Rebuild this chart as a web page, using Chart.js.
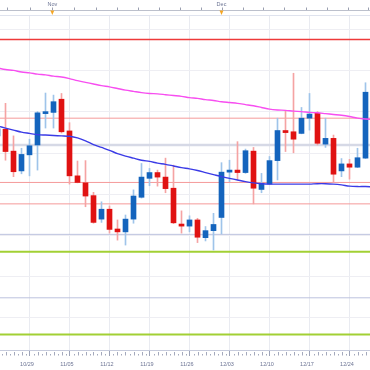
<!DOCTYPE html>
<html>
<head>
<meta charset="utf-8">
<script src="https://cdn.jsdelivr.net/npm/chart.js@4.4.0/dist/chart.umd.min.js"></script>
<style>
  html, body { margin: 0; padding: 0; background: #fff; }
  #chart { display: block; }
</style>
</head>
<body>
<canvas id="chart" width="370" height="370"></canvas>
<script>
// daily candles, index 0 = 10/29 (first week line), four days before it
const firstIndex = -4;
const dates = [
  '10/23', '10/24', '10/25', '10/26',
  '10/29', '10/30', '10/31', '11/01', '11/02',
  '11/05', '11/06', '11/07', '11/08', '11/09',
  '11/12', '11/13', '11/14', '11/15', '11/16',
  '11/19', '11/20', '11/21', '11/22', '11/23',
  '11/26', '11/27', '11/28', '11/29', '11/30',
  '12/03', '12/04', '12/05', '12/06', '12/07',
  '12/10', '12/11', '12/12', '12/13', '12/14',
  '12/17', '12/18', '12/19', '12/20', '12/21',
  '12/24', '12/25', '12/26'
];
const openP = [
  144.2, 145.8, 140.5, 135.7,
  139.6, 142.0, 149.6, 149.9, 153.1,
  145.4, 134.5, 132.8, 129.7, 124.0,
  126.4, 121.6, 120.9, 124.0, 129.3,
  133.9, 135.3, 134.2, 131.5, 122.8,
  122.3, 123.8, 119.5, 121.2, 124.4,
  135.4, 135.9, 135.3, 140.5, 131.2,
  132.5, 138.2, 145.5, 145.2, 144.8,
  148.5, 149.7, 142.2, 143.6, 135.7,
  137.4, 136.6, 138.8
];
const highP = [
  146.8, 152.1, 144.2, 141.2,
  143.4, 150.1, 154.6, 154.1, 154.5,
  147.4, 138.1, 138.2, 130.5, 128.2,
  127.2, 123.8, 125.0, 131.1, 137.5,
  136.3, 135.9, 138.8, 137.1, 126.0,
  124.8, 124.2, 122.2, 125.4, 137.7,
  138.3, 142.8, 141.0, 141.4, 135.1,
  139.2, 148.5, 150.3, 159.4, 151.1,
  154.5, 150.1, 148.5, 144.4, 138.7,
  138.5, 141.2, 157.1
];
const lowP = [
  143.7, 138.3, 134.3, 135.0,
  134.5, 135.9, 146.1, 146.1, 144.9,
  132.5, 132.8, 127.0, 123.0, 123.2,
  120.6, 118.9, 117.7, 123.0, 129.1,
  132.1, 132.0, 130.4, 122.9, 120.6,
  120.9, 118.3, 118.7, 116.5, 120.4,
  133.1, 133.5, 135.1, 127.7, 130.4,
  132.4, 133.5, 140.4, 140.1, 144.7,
  145.6, 142.0, 141.4, 133.0, 134.3,
  133.7, 136.5, 138.7
];
const closeP = [
  145.9, 140.4, 135.5, 139.7,
  141.8, 149.8, 149.9, 152.5, 145.2,
  134.5, 132.9, 129.6, 123.2, 126.4,
  121.5, 120.9, 124.0, 129.6, 134.2,
  135.3, 134.2, 131.4, 123.1, 122.3,
  123.8, 119.6, 121.2, 122.7, 135.4,
  135.9, 135.3, 140.6, 131.5, 132.7,
  138.2, 145.5, 145.0, 143.4, 148.5,
  149.5, 142.4, 143.6, 134.9, 137.4,
  136.6, 138.9, 154.8
];
// moving averages (one extra point runs past the last candle to the edge)
const maSlow = [
  160.7, 160.3, 160.1, 159.7,
  159.5, 159.2, 159.0, 158.7, 158.5,
  158.1, 157.6, 157.2, 156.8, 156.4,
  156.1, 155.7, 155.3, 155.0, 154.7,
  154.5, 154.4, 154.2, 154.0, 153.8,
  153.5, 153.3, 153.0, 152.8, 152.5,
  152.3, 152.1, 151.8, 151.5, 151.1,
  150.7, 150.5, 150.4, 150.2, 150.1,
  149.9, 149.8, 149.6, 149.4, 149.2,
  148.9, 148.5, 148.3, 148.2
];
const maFast = [
  146.6, 146.1, 145.6, 145.1,
  144.8, 144.5, 144.4, 144.3, 144.2,
  144.1, 143.7, 143.0, 142.1, 141.4,
  140.7, 139.9, 139.3, 138.8, 138.3,
  138.0, 137.6, 137.3, 136.9, 136.5,
  136.2, 135.8, 135.3, 134.8, 134.3,
  133.9, 133.5, 133.1, 132.8, 132.6,
  132.5, 132.5, 132.5, 132.5, 132.5,
  132.5, 132.6, 132.6, 132.5, 132.3,
  132.0, 131.9, 131.9, 131.8
];

// horizontal levels
const resistance = [167.6];
const pivotLines = [148.5, 132.9, 127.7];
const midLine = [142.0];
const bandLines = [120.3, 104.9];
const supportLines = [116.1, 96.0];

// axes
const weekTicks = [0, 5, 10, 15, 20, 25, 30, 35, 40];
const gridValues = [100, 110, 120, 130, 140, 150, 160, 170];
const topTicks = [-2.78, 0.06, 2.78, 5.56, 8.31, 10.9, 13.6, 16.2, 18.8, 21.4, 24.0, 26.65, 29.2, 31.85, 34.56, 37.15, 39.8, 42.35];
const months = [['Nov', 2.85], ['Dec', 24.0]];

const xMin = -3.6875, xMax = 42.5625;
const yMin = 92.23, yMax = 173.3;

const idx = dates.map((d, k) => k + firstIndex);
const rising = closeP.map((c, k) => c >= openP[k]);

function level(v, color, width) {
  return {
    type: 'line',
    data: [{x: xMin, y: v}, {x: xMax, y: v}],
    borderColor: color,
    borderWidth: width,
    pointRadius: 0,
    order: 5
  };
}

function maLine(values, color) {
  return {
    type: 'line',
    data: values.map((v, k) => ({x: k + firstIndex, y: v})),
    borderColor: color,
    borderWidth: 1.4,
    pointRadius: 0,
    tension: 0.3,
    order: 1
  };
}

const axisDecor = {
  id: 'axisDecor',
  afterDraw(chart) {
    const ctx = chart.ctx;
    const sx = chart.scales.x;
    const area = chart.chartArea;
    ctx.save();
    ctx.lineWidth = 1;

    // top time strip
    ctx.strokeStyle = '#bcc0cc';
    ctx.beginPath(); ctx.moveTo(area.left, 10.5); ctx.lineTo(area.right, 10.5); ctx.stroke();
    ctx.strokeStyle = '#dfe3ee';
    ctx.beginPath(); ctx.moveTo(area.left, area.top - 0.5); ctx.lineTo(area.right, area.top - 0.5); ctx.stroke();
    ctx.strokeStyle = '#9a9fb0';
    topTicks.forEach(t => {
      const px = Math.round(sx.getPixelForValue(t)) + 0.5;
      ctx.beginPath(); ctx.moveTo(px, 7.5); ctx.lineTo(px, 10); ctx.stroke();
    });
    ctx.font = '5.5px "Liberation Sans"';
    ctx.textAlign = 'center';
    ctx.textBaseline = 'middle';
    months.forEach(([name, t]) => {
      const px = sx.getPixelForValue(t);
      ctx.fillStyle = '#6c7494';
      ctx.fillText(name, px, 4.7);
      ctx.fillStyle = '#f5a623';
      ctx.beginPath();
      ctx.moveTo(px - 2, 10.5); ctx.lineTo(px + 2, 10.5); ctx.lineTo(px, 15);
      ctx.closePath(); ctx.fill();
    });

    // small day ticks on the bottom axis
    ctx.strokeStyle = '#a4a9bc';
    for (let t = Math.ceil(xMin * 2) / 2; t <= xMax; t += 0.5) {
      if (t % 5 === 0) continue;
      const px = Math.round(sx.getPixelForValue(t)) + 0.5;
      const y0 = Number.isInteger(t) ? area.bottom + 2 : area.bottom + 4;
      ctx.beginPath(); ctx.moveTo(px, y0); ctx.lineTo(px, area.bottom + 5.5); ctx.stroke();
    }
    ctx.restore();
  }
};

new Chart(document.getElementById('chart'), {
  type: 'bar',
  data: {
    datasets: [
      {
        label: 'wick',
        data: idx.map((x, k) => ({x: x, y: [lowP[k], highP[k]]})),
        backgroundColor: rising.map(r => r ? '#9fc4ea' : '#f5a3a3'),
        barThickness: 1,
        grouped: false,
        order: 3
      },
      {
        label: 'body',
        data: idx.map((x, k) => ({x: x, y: [openP[k], closeP[k]]})),
        backgroundColor: rising.map(r => r ? '#1464bd' : '#e01212'),
        barThickness: 5,
        minBarLength: 2,
        grouped: false,
        order: 2
      },
      maLine(maSlow, '#f74ef0'),
      maLine(maFast, '#3b3be6'),
      ...resistance.map(v => level(v, '#ee3a3a', 1.5)),
      ...pivotLines.map(v => level(v, '#f59a9a', 1)),
      ...midLine.map(v => level(v, '#d6d9e6', 2.5)),
      ...bandLines.map(v => level(v, '#bcc2de', 1)),
      ...supportLines.map(v => level(v, '#a2d034', 2))
    ]
  },
  options: {
    responsive: false,
    animation: false,
    devicePixelRatio: 1,
    layout: { padding: { top: 16, left: 0, right: 0, bottom: 0 } },
    plugins: { legend: { display: false }, tooltip: { enabled: false } },
    scales: {
      x: {
        type: 'linear',
        min: xMin,
        max: xMax,
        offset: false,
        afterBuildTicks: s => { s.ticks = weekTicks.map(v => ({value: v})); },
        afterFit: s => { s.height = 20; },
        grid: { offset: false, color: '#e9ebf1', tickColor: '#9ca2b6', tickLength: 6 },
        border: { color: '#c6cbdc' },
        ticks: {
          autoSkip: false,
          maxRotation: 0,
          padding: 5,
          labelOffset: -2.5,
          color: '#6c7494',
          font: { family: 'Liberation Sans', size: 5.5 },
          callback: v => dates[v - firstIndex]
        }
      },
      y: {
        min: yMin,
        max: yMax,
        afterBuildTicks: s => { s.ticks = gridValues.map(v => ({value: v})); },
        afterFit: s => { s.width = 0; },
        grid: { color: '#eeeef3', drawTicks: false },
        border: { display: false },
        ticks: { display: false }
      }
    }
  },
  plugins: [axisDecor]
});
</script>
</body>
</html>
